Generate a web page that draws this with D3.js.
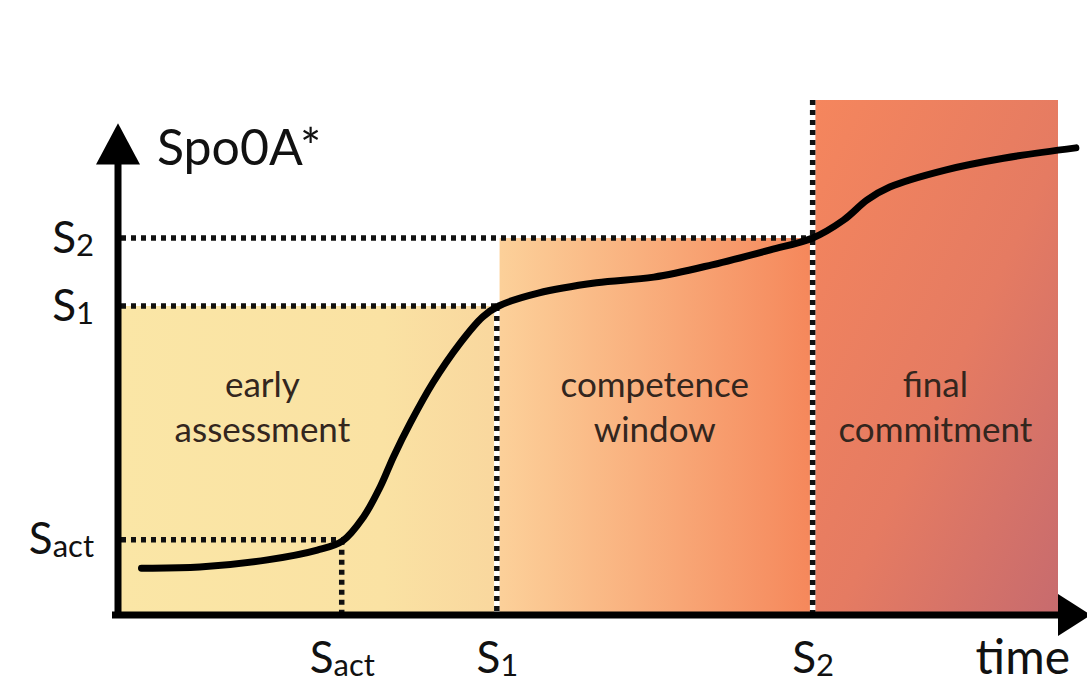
<!DOCTYPE html>
<html><head><meta charset="utf-8">
<script src="https://cdn.jsdelivr.net/npm/d3@7"></script>
<style>
html,body{margin:0;padding:0;background:#fff;}
svg{display:block;}
text{font-family:Lato,"Open Sans",sans-serif;}
</style>
</head><body>
<svg id="chart" width="1087" height="685"></svg>
<script>
// ---- data ----
const thresholdNames = ["act", "1", "2"];
const thresholdTimes = [23.8, 40.3, 73.9];
const thresholdLevels = [14.6, 60.0, 73.2];
const regionNames = [["early", "assessment"], ["competence", "window"], ["final", "commitment"]];
const curveTime  = [2.5, 8.7, 15.9, 21.2, 23.9, 26.1, 27.9, 29.3, 31.1, 33.5, 36.4, 38.8, 40.5, 44.7, 50.9, 57.0, 63.2, 69.4, 73.9, 77.2, 79.7, 82.1, 88.0, 94.2, 101.9];
const curveLevel = [9.1, 9.3, 10.7, 12.6, 14.4, 19.0, 24.9, 30.7, 37.3, 45.1, 52.8, 57.9, 60.0, 62.5, 64.5, 65.6, 68.0, 70.9, 73.2, 76.7, 80.6, 83.1, 86.4, 88.7, 90.7];
const yTitle = "Spo0A*";
const xTitle = "time";

// ---- layout ----
const svg = d3.select("#chart");
const x = d3.scaleLinear().domain([0, 100]).range([118, 1058]);
const y = d3.scaleLinear().domain([0, 100]).range([615, 100]);

const defs = svg.append("defs");
function grad(id, stops, x2, y2) {
  const g = defs.append("linearGradient").attr("id", id)
    .attr("x1", 0).attr("y1", 0).attr("x2", x2).attr("y2", y2);
  stops.forEach(s => g.append("stop").attr("offset", s[0]).attr("stop-color", s[1]));
}
grad("g0", [[0, "#fae6a6"], [0.7, "#fae2a3"], [1, "#f9d79e"]], 1, 0);
grad("g1", [[0, "#fcd19a"], [0.45, "#f9b07e"], [1, "#f5875b"]], 1, 0);
grad("g2", [[0, "#f5865d"], [0.55, "#e57b62"], [1, "#c76b6e"]], 1, 1);

// regions derived from thresholds
const regStart = [0, thresholdTimes[1], thresholdTimes[2]];
const regEnd = [thresholdTimes[1], thresholdTimes[2], 100];
const regTop = [thresholdLevels[1], thresholdLevels[2], 100];

svg.append("g").selectAll("rect").data(regionNames).join("rect")
  .attr("x", (d, i) => x(regStart[i]))
  .attr("y", (d, i) => y(regTop[i]))
  .attr("width", (d, i) => x(regEnd[i]) - x(regStart[i]))
  .attr("height", (d, i) => y(0) - y(regTop[i]))
  .attr("fill", (d, i) => `url(#g${i})`);

// region labels
const labelShift = [-45, 0, 0];
const lab = svg.append("g").selectAll("text").data(regionNames).join("text")
  .attr("text-anchor", "middle")
  .attr("fill", "#33261e")
  .attr("font-size", 35)
  .attr("x", (d, i) => (x(regStart[i]) + x(regEnd[i])) / 2 + labelShift[i])
  .attr("y", 397);
lab.each(function (d) {
  const t = d3.select(this);
  const cx = t.attr("x");
  d.forEach((w, j) => t.append("tspan").attr("x", cx).attr("dy", j ? 45 : 0).text(w));
});

// dotted guide lines
const dash = "5,5";
const dotW = 5.5;
const guides = svg.append("g");
[1, 2].forEach(i => {
  guides.append("line")
    .attr("x1", x(thresholdTimes[i])).attr("x2", x(thresholdTimes[i]))
    .attr("y1", y(regTop[i])).attr("y2", y(0))
    .attr("stroke", "#fff").attr("stroke-width", dotW);
});
thresholdTimes.forEach((t, i) => {
  guides.append("line")
    .attr("x1", x(t)).attr("x2", x(t))
    .attr("y1", i === 2 ? y(100) : y(thresholdLevels[i])).attr("y2", y(0))
    .attr("stroke", "#111").attr("stroke-width", dotW).attr("stroke-dasharray", dash);
  guides.append("line")
    .attr("x1", x(0) + 3).attr("x2", x(t))
    .attr("y1", y(thresholdLevels[i])).attr("y2", y(thresholdLevels[i]))
    .attr("stroke", "#111").attr("stroke-width", dotW).attr("stroke-dasharray", dash);
});

// curve
const pts = curveTime.map((t, i) => [t, curveLevel[i]]);
svg.append("path").datum(pts)
  .attr("d", d3.line().x(d => x(d[0])).y(d => y(d[1])).curve(d3.curveCatmullRom.alpha(0.5)))
  .attr("fill", "none").attr("stroke", "#000").attr("stroke-width", 7)
  .attr("stroke-linecap", "round");

// axes (lines + arrowheads)
const ax = svg.append("g");
ax.append("line").attr("x1", x(0)).attr("x2", x(0)).attr("y1", y(0) + 3).attr("y2", y(91))
  .attr("stroke", "#000").attr("stroke-width", 7);
ax.append("line").attr("x1", x(0) - 6).attr("x2", x(100) + 4).attr("y1", y(0)).attr("y2", y(0))
  .attr("stroke", "#000").attr("stroke-width", 7);
ax.append("path")
  .attr("d", `M${x(0)},${y(95.5)} L${x(0) - 22},${y(87.5)} L${x(0) + 22},${y(87.5)} Z`)
  .attr("fill", "#000");
ax.append("path")
  .attr("d", `M${x(103.5)},${y(0)} L${x(100)},${y(0) - 21} L${x(100)},${y(0) + 21} Z`)
  .attr("fill", "#000");

function subLabel(sel) {
  sel.each(function (d, i) {
    const t = d3.select(this);
    t.text(null);
    t.append("tspan").text("S");
    t.append("tspan").attr("font-size", 31).attr("dy", "0.1em").text(thresholdNames[i]);
  });
}

// left tick labels
const yAxis = svg.append("g").attr("transform", `translate(${x(0)},0)`)
  .call(d3.axisLeft(y).tickValues(thresholdLevels).tickSize(0).tickPadding(24).tickFormat(() => ""));
yAxis.select(".domain").remove();
yAxis.selectAll("text").attr("font-size", 44).attr("fill", "#111")
  .style("font-family", "Lato").call(subLabel);

// bottom tick labels
const xAxis = svg.append("g").attr("transform", `translate(0,${y(0)})`)
  .call(d3.axisBottom(x).tickValues(thresholdTimes).tickSize(0).tickPadding(27).tickFormat(() => ""));
xAxis.select(".domain").remove();
xAxis.selectAll("text").attr("font-size", 44).attr("fill", "#111")
  .style("font-family", "Lato").call(subLabel);

// titles
svg.append("text").attr("x", 157).attr("y", 165).attr("font-size", 50).attr("fill", "#111").text(yTitle);
svg.append("text").attr("x", 1070).attr("y", 674).attr("text-anchor", "end").attr("font-size", 48).attr("fill", "#111").text(xTitle);
</script>
</body></html>
